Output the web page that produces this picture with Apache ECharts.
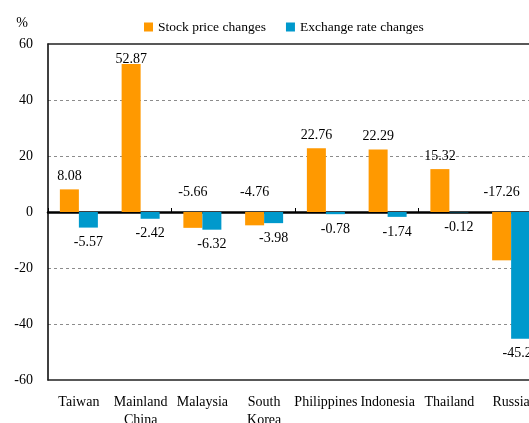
<!DOCTYPE html>
<html>
<head>
<meta charset="utf-8">
<script src="https://cdn.jsdelivr.net/npm/echarts@6/dist/echarts.min.js"></script>
<style>html,body{margin:0;padding:0;background:#fff;}#c{width:529px;height:423px;}</style>
</head>
<body>
<div id="c"></div>
<script>
var categories = ['Taiwan', 'Mainland China', 'Malaysia', 'South Korea', 'Philippines', 'Indonesia', 'Thailand', 'Russia'];
var stockChanges = [8.08, 52.87, -5.66, -4.76, 22.76, 22.29, 15.32, -17.26];
var exchangeChanges = [-5.57, -2.42, -6.32, -3.98, -0.78, -1.74, -0.12, -45.25];
var yTicks = { min: -60, max: 60, step: 20 };
var seriesNames = ['Stock price changes', 'Exchange rate changes'];

var FONT = 'Liberation Serif';
var chart = echarts.init(document.getElementById('c'), null, { renderer: 'canvas' });

var stockData = stockChanges.map(function (v) {
  var item = { value: v };
  if (v < 0) item.label = { distance: 13 };
  if (v > yTicks.max - 10) item.label = { offset: [0, 8] };
  return item;
});

var option = {
  animation: false,
  textStyle: { fontFamily: FONT },
  legend: {
    data: seriesNames,
    left: 139,
    top: 15,
    itemWidth: 9,
    itemHeight: 9,
    itemGap: 20,
    icon: 'rect',
    textStyle: { fontFamily: FONT, fontSize: 13.5, color: '#000' }
  },
  grid: { left: 48, width: 494, top: 44, bottom: 43, containLabel: false, outerBoundsMode: 'none' },
  xAxis: [
    {
      type: 'category', data: categories, position: 'bottom',
      axisLine: { onZero: false, lineStyle: { color: '#222', width: 1.5 } },
      axisTick: { show: false },
      axisLabel: {
        interval: 0, margin: 13, fontFamily: FONT, fontSize: 14, color: '#000', lineHeight: 18,
        formatter: function (v) { return v.replace(' ', '\n'); }
      },
      splitLine: { show: false }
    },
    {
      type: 'category', data: categories, position: 'bottom',
      axisLine: { onZero: true, lineStyle: { color: '#000', width: 2.5 } },
      axisTick: { show: true, inside: true, length: 4, lineStyle: { color: '#000', width: 1 } },
      axisLabel: { show: false },
      splitLine: { show: false }
    },
    {
      type: 'category', data: categories, position: 'top',
      axisLine: { onZero: false, lineStyle: { color: '#222', width: 1.5 } },
      axisTick: { show: false },
      axisLabel: { show: false },
      splitLine: { show: false }
    }
  ],
  yAxis: {
    type: 'value', min: yTicks.min, max: yTicks.max, interval: yTicks.step,
    name: '%', nameLocation: 'end', nameGap: 14,
    nameTextStyle: { fontFamily: FONT, fontSize: 14, color: '#000', align: 'right', padding: [0, 20, 0, 0] },
    axisLine: { show: true, lineStyle: { color: '#000', width: 1.5 } },
    axisTick: { show: false },
    axisLabel: { margin: 15, fontFamily: FONT, fontSize: 14, color: '#000' },
    splitLine: {
      show: true,
      lineStyle: { color: ['rgba(0,0,0,0)', '#8c8c8c', '#8c8c8c', 'rgba(0,0,0,0)', '#8c8c8c', '#8c8c8c'], type: [3, 3], width: 1 }
    }
  },
  series: [
    {
      name: seriesNames[0], type: 'bar', xAxisIndex: 0, data: stockData,
      barWidth: 19, barGap: '0%',
      itemStyle: { color: '#FF9900' },
      label: { show: true, position: 'top', distance: 6, fontFamily: FONT, fontSize: 14, color: '#000', formatter: function (p) { return p.value.toFixed(2); } }
    },
    {
      name: seriesNames[1], type: 'bar', xAxisIndex: 0, data: exchangeChanges,
      barWidth: 19, barGap: '0%',
      itemStyle: { color: '#0099CC' },
      label: { show: true, position: 'bottom', distance: 8, fontFamily: FONT, fontSize: 14, color: '#000', formatter: function (p) { return p.value.toFixed(2); } }
    }
  ]
};
chart.setOption(option);
</script>
</body>
</html>
